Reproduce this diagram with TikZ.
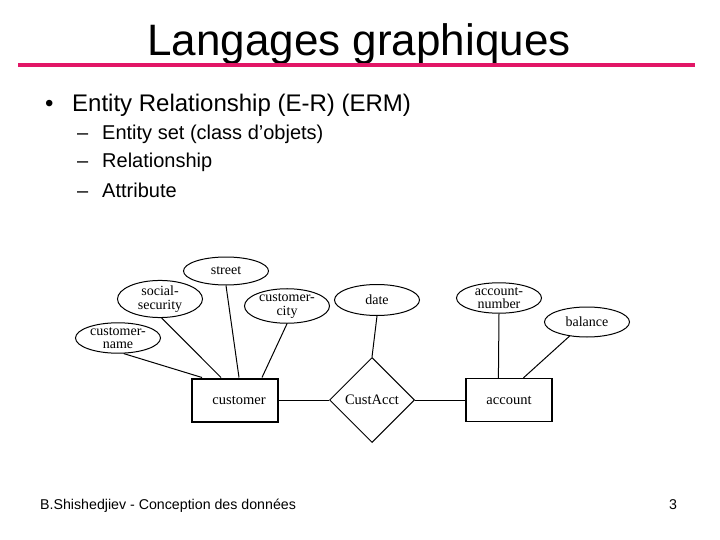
\documentclass[tikz,border=0pt]{standalone}
\usepackage{fontspec}
\setmainfont{Liberation Sans}
\newfontfamily\erfont{Liberation Serif}
\usetikzlibrary{shapes.geometric}
\definecolor{titleline}{RGB}{226,22,102}
\begin{document}
\begin{tikzpicture}[x=1pt,y=-1pt,
  attr/.style={ellipse,draw,line width=1pt,minimum width=85pt,minimum height=29pt,inner sep=0pt,
    font=\erfont\fontsize{14}{13.5}\selectfont,align=center},
  ent/.style={rectangle,draw,minimum width=86pt,minimum height=43pt,inner sep=0pt,
    font=\erfont\fontsize{14.5}{12}\selectfont},
  rel/.style={diamond,draw,line width=1pt,minimum width=85pt,minimum height=85pt,inner sep=0pt,
    font=\erfont\fontsize{14.5}{12}\selectfont},
  link/.style={line width=1pt},
  bodytext/.style={anchor=base west,inner sep=0pt}]
\useasboundingbox (0,0) rectangle (720,540);

% title
\node[anchor=base,inner sep=0pt,font=\fontsize{44}{50}\selectfont] (title) at (359,56) {Langages graphiques};
\draw[titleline,line width=4pt] (18,65) -- (695,65);

% bullets
\node[bodytext,font=\fontsize{24}{28}\selectfont] (bul) at (45,112) {•};
\node[bodytext,font=\fontsize{24}{28}\selectfont] (b1) at (72,112) {Entity Relationship (E-R) (ERM)};
\node[bodytext,font=\fontsize{20}{24}\selectfont] (d1) at (77,140) {–};
\node[bodytext,font=\fontsize{20}{24}\selectfont] (s1) at (102,140) {Entity set (class d’objets)};
\node[bodytext,font=\fontsize{20}{24}\selectfont] (d2) at (77,168) {–};
\node[bodytext,font=\fontsize{20}{24}\selectfont] (s2) at (102,168) {Relationship};
\node[bodytext,font=\fontsize{20}{24}\selectfont] (d3) at (77,197) {–};
\node[bodytext,font=\fontsize{20}{24}\selectfont] (s3) at (102,197) {Attribute};

% footer
\node[bodytext,font=\fontsize{14.2}{16}\selectfont] (foot) at (40,509) {B.Shishedjiev - Conception des données};
\node[bodytext,font=\fontsize{14.2}{16}\selectfont] (page) at (669,509) {3};

% ER diagram
\node[attr,minimum height=28pt] (street) at (226,271) {street};
\node[attr] (social) at (160,299) {social-\\security};
\node[attr,minimum height=30pt] (ccity) at (287,306) {customer-\\city};
\node[attr,minimum height=28pt] (cname) at (118,338) {customer-\\name};
\node[attr,minimum height=31pt] (date) at (377,300) {date};
\node[attr,minimum height=30pt] (anum) at (499,298) {account-\\number};
\node[attr,minimum height=30pt] (bal) at (587,322) {balance};

\node[ent,line width=2pt] (cust) at (235,400) {\hspace{8pt}customer};
\node[rel] (dia) at (372,400) {CustAcct};
\node[ent,line width=1.2pt] (acct) at (509,400) {account};

\draw[link] (cname.-70) -- ([xshift=11pt]cust.north west);
\draw[link] (social.-85) -- ([xshift=30pt]cust.north west);
\draw[link] (street.south) -- ([xshift=48pt]cust.north west);
\draw[link] (ccity.south) -- ([xshift=71pt]cust.north west);
\draw[link] (cust) -- (dia);
\draw[link] (date.south) -- (dia.north);
\draw[link] (dia) -- (acct);
\draw[link] (anum.south) -- ([xshift=33pt]acct.north west);
\draw[link] (bal.-141) -- ([xshift=58pt]acct.north west);
\end{tikzpicture}
\end{document}
